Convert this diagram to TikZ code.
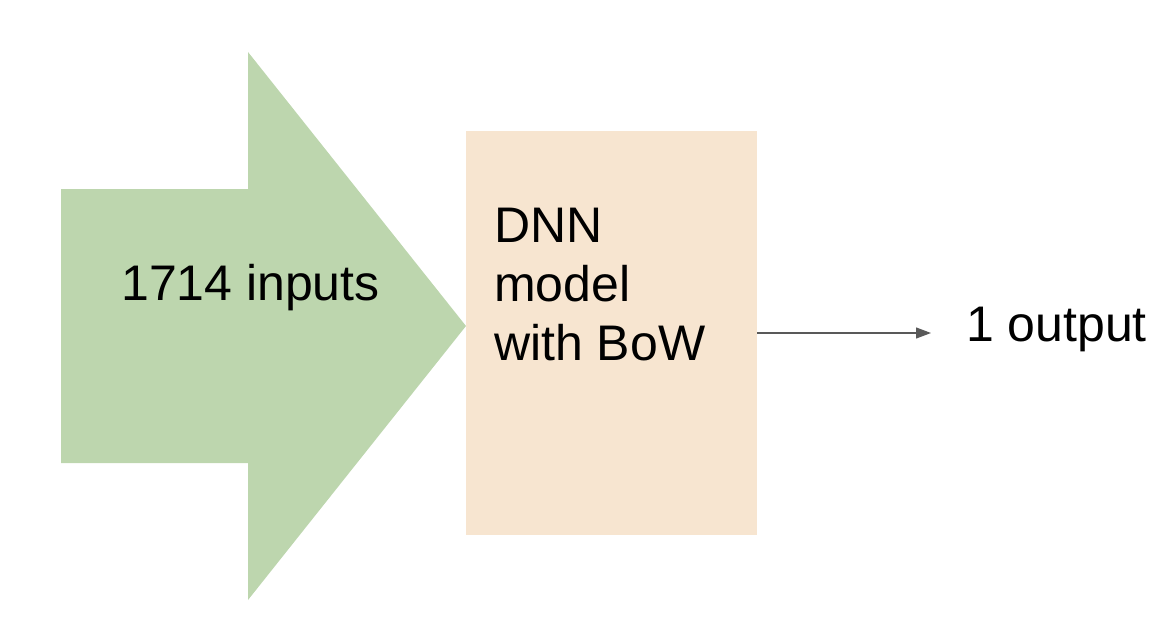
\documentclass[tikz,border=0pt]{standalone}
\usepackage{fontspec}
\setmainfont{Liberation Sans}
\usetikzlibrary{arrows.meta}
\definecolor{arrowgreen}{HTML}{BDD6AE}
\definecolor{boxbeige}{HTML}{F7E5D0}
\definecolor{linegray}{HTML}{595959}
\tikzset{
  bigtext/.style={font=\fontsize{50}{59}\selectfont, inner sep=0pt, text=black},
  modelbox/.style={fill=boxbeige, draw=none, minimum width=291pt, minimum height=404pt, inner sep=0pt},
  connector/.style={draw=linegray, line width=1.2pt, -{Triangle[length=15pt,width=11pt]}}
}
\begin{document}
\begin{tikzpicture}[x=1pt,y=-1pt]
\useasboundingbox (0,0) rectangle (1176,626);
\fill[arrowgreen] (61,189) -- (248,189) -- (248,52) -- (466,326) -- (248,600) -- (248,463) -- (61,463) -- cycle;
\node[bigtext, anchor=base west] (inputs) at (121,300) {1714 inputs};
\node[modelbox] (dnn) at (611.5,333) {};
\node[bigtext, anchor=base west, align=left] (dnntext) at (494,360) {DNN\\model\\with BoW};
\node[bigtext, anchor=base west] (output) at (966,341) {1 output};
\coordinate (arrowend) at (931,333);
\draw[connector] (dnn.east |- arrowend) -- (arrowend);
\end{tikzpicture}
\end{document}
